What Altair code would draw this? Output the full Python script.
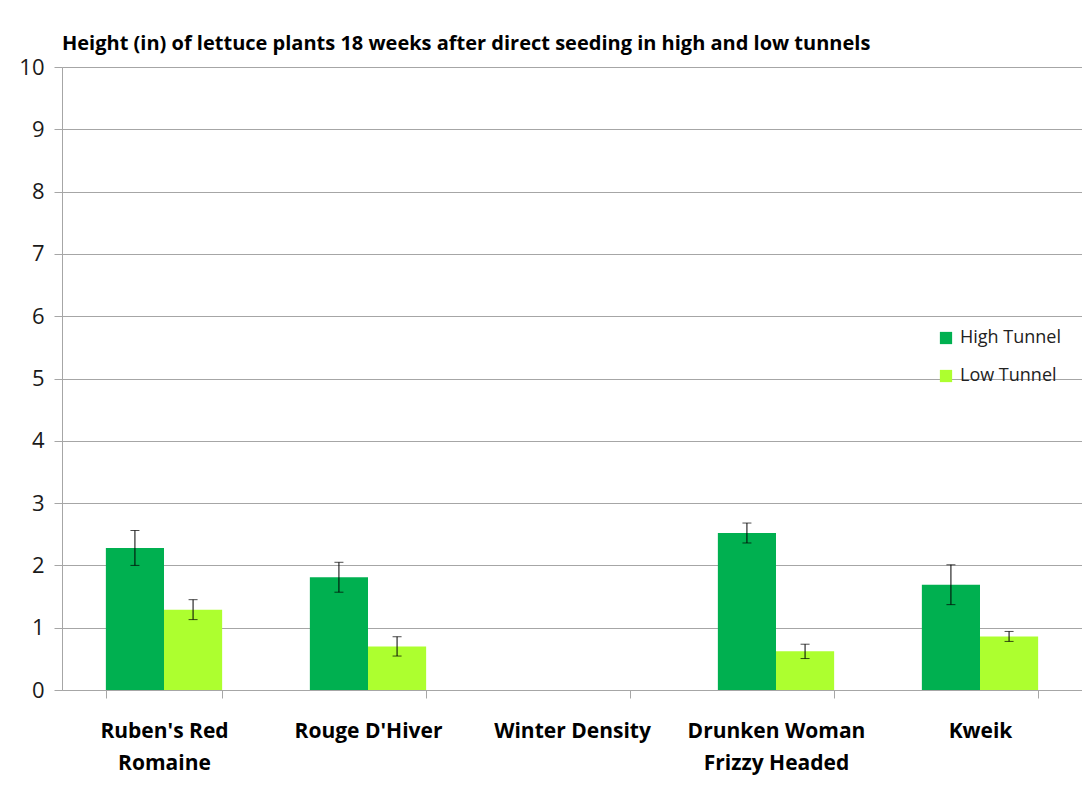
import altair as alt
import pandas as pd

categories = ["Ruben's Red|Romaine", "Rouge D'Hiver", "Winter Density",
              "Drunken Woman|Frizzy Headed", "Kweik"]
series = ["High Tunnel", "Low Tunnel"]
high_mean = [2.28, 1.81, 0.0, 2.52, 1.69]
high_err = [0.28, 0.24, 0.0, 0.16, 0.32]
low_mean = [1.29, 0.70, 0.0, 0.62, 0.86]
low_err = [0.16, 0.155, 0.0, 0.115, 0.08]
colors = ["#00B050", "#ADFF2F"]
y_ticks = list(range(0, 11))
title_text = "Height (in) of lettuce plants 18 weeks after direct seeding in high and low tunnels"

FONT = "'Open Sans', 'Liberation Sans', sans-serif"

rows = []
for i, c in enumerate(categories):
    rows.append({"cat": c, "series": series[0], "mean": high_mean[i], "err": high_err[i]})
    rows.append({"cat": c, "series": series[1], "mean": low_mean[i], "err": low_err[i]})
df = pd.DataFrame(rows)

x_enc = alt.X("cat:N", sort=categories,
              scale=alt.Scale(paddingInner=0.43, paddingOuter=0.215),
              axis=alt.Axis(title=None, labelAngle=0, labelFontSize=21, labelFontWeight="bold",
                            labelLineHeight=32, labelPadding=22, tickBand="extent", tickSize=8,
                            labelExpr="split(datum.label, '|')", grid=False,
                            domainColor="#A6A6A6", tickColor="#A6A6A6", labelColor="#000000",
                            labelFont=FONT))
xo_enc = alt.XOffset("series:N", sort=series, scale=alt.Scale(paddingInner=0, paddingOuter=0))

base = alt.Chart(df)

bars = base.mark_bar().encode(
    x=x_enc,
    xOffset=xo_enc,
    y=alt.Y("mean:Q", scale=alt.Scale(domain=[0, 10], nice=False),
            axis=alt.Axis(title=None, values=y_ticks, format="d", grid=True, gridColor="#A6A6A6",
                          domainColor="#A6A6A6", tickColor="#A6A6A6", tickSize=8,
                          labelFontSize=22, labelPadding=10, labelColor="#1a1a1a",
                          labelFont=FONT)),
    color=alt.Color("series:N", sort=series,
                    scale=alt.Scale(domain=series, range=colors),
                    legend=alt.Legend(title=None, orient="none", legendX=875, legendY=262,
                                      symbolType="square", symbolSize=150, symbolStrokeWidth=0,
                                      labelFontSize=18, labelFont=FONT, labelColor="#222222",
                                      rowPadding=20, labelOffset=5)),
)

err_base = base.transform_filter("datum.err > 0").transform_calculate(
    lo="datum.mean - datum.err", hi="datum.mean + datum.err")

rules = err_base.mark_rule(color="#000000", strokeWidth=1).encode(
    x=alt.X("cat:N", sort=categories), xOffset=alt.XOffset("series:N", sort=series),
    y="lo:Q", y2="hi:Q")
cap_lo = err_base.mark_tick(color="#000000", thickness=1, size=9).encode(
    x=alt.X("cat:N", sort=categories), xOffset=alt.XOffset("series:N", sort=series),
    y="lo:Q")
cap_hi = err_base.mark_tick(color="#000000", thickness=1, size=9).encode(
    x=alt.X("cat:N", sort=categories), xOffset=alt.XOffset("series:N", sort=series),
    y="hi:Q")

chart = alt.layer(bars, rules, cap_lo, cap_hi).properties(
    width=1020, height=623,
    autosize=alt.AutoSizeParams(type="none"),
    padding={"left": 54, "top": 59, "right": 0, "bottom": 100},
    title=alt.Title(title_text, anchor="start", frame="group", fontSize=20, fontWeight="bold",
                    font=FONT, color="#000000", offset=2),
).configure_view(stroke=None).configure(background="white")

chart.save("out.html", embed_options={"renderer": "svg", "actions": False})
